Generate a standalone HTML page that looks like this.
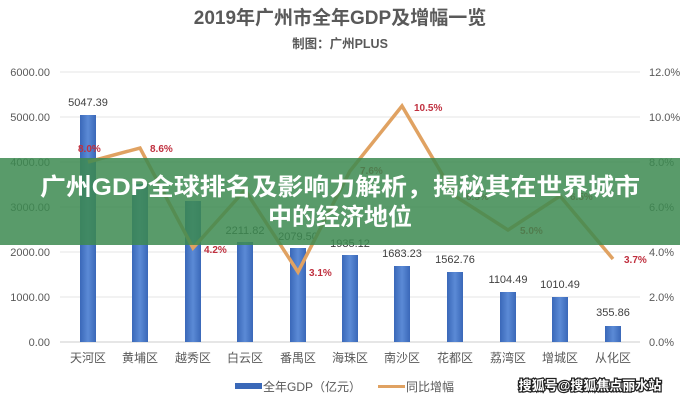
<!DOCTYPE html>
<html><head><meta charset="utf-8"><style>
body{margin:0;width:680px;height:400px;background:#fff;overflow:hidden;font-family:"Liberation Sans","Noto Sans CJK SC",sans-serif}
</style></head><body>
<svg width="680" height="400" xmlns="http://www.w3.org/2000/svg" font-family="Liberation Sans, Noto Sans CJK SC, sans-serif">
<defs><linearGradient id="b" x1="0" x2="1"><stop offset="0" stop-color="#3a68b8"/><stop offset=".5" stop-color="#5b8ad6"/><stop offset="1" stop-color="#3a68b8"/></linearGradient></defs>
<text x="340" y="24" text-anchor="middle" font-size="19" font-weight="bold" fill="#595959">2019年广州市全年GDP及增幅一览</text>
<text x="340" y="48" text-anchor="middle" font-size="12.5" font-weight="bold" fill="#595959">制图：广州PLUS</text>
<g stroke="#e4e4e4" stroke-width="1">
<line x1="60" x2="640" y1="72" y2="72"/><line x1="60" x2="640" y1="117" y2="117"/><line x1="60" x2="640" y1="162" y2="162"/><line x1="60" x2="640" y1="207" y2="207"/><line x1="60" x2="640" y1="252" y2="252"/><line x1="60" x2="640" y1="297" y2="297"/><line x1="60" x2="640" y1="342" y2="342" stroke="#ccc"/></g>
<g font-size="11" fill="#595959" text-anchor="end">
<text x="50" y="76">6000.00</text><text x="50" y="121">5000.00</text><text x="50" y="166">4000.00</text><text x="50" y="211">3000.00</text><text x="50" y="256">2000.00</text><text x="50" y="301">1000.00</text><text x="50" y="346">0.00</text></g>
<g font-size="11" fill="#595959">
<text x="649" y="76">12.0%</text><text x="649" y="121">10.0%</text><text x="649" y="166">8.0%</text><text x="649" y="211">6.0%</text><text x="649" y="256">4.0%</text><text x="649" y="301">2.0%</text><text x="649" y="346">0.0%</text></g>
<g fill="url(#b)">
<rect x="80" y="115" width="16" height="227"/><rect x="132" y="184" width="16" height="158"/><rect x="185" y="201" width="16" height="141"/><rect x="237" y="242" width="16" height="100"/><rect x="290" y="248" width="16" height="94"/><rect x="342" y="255" width="16" height="87"/><rect x="394" y="266" width="16" height="76"/><rect x="447" y="272" width="16" height="70"/><rect x="500" y="292" width="16" height="50"/><rect x="552" y="297" width="16" height="45"/><rect x="605" y="326" width="16" height="16"/></g>
<g font-size="11" fill="#404040" text-anchor="middle">
<text x="88" y="106">5047.39</text><text x="245" y="234">2211.82</text><text x="298" y="240">2079.50</text><text x="350" y="247">1935.12</text><text x="402" y="257">1683.23</text><text x="455" y="263">1562.76</text><text x="508" y="283">1104.49</text><text x="560" y="288">1010.49</text><text x="613" y="316">355.86</text></g>
<polyline fill="none" stroke="#e0a262" stroke-width="3.5" stroke-linejoin="miter" points="88,162 140,148 193,248 245,190 298,272 350,171 402,106 455,196 508,230 560,196 613,259"/>
<g font-size="10" font-weight="bold" fill="#c0303f">
<text x="78" y="152">8.0%</text><text x="150" y="152">8.6%</text><text x="204" y="253">4.2%</text><text x="309" y="276">3.1%</text><text x="414" y="111">10.5%</text><text x="360" y="174">7.6%</text><text x="466" y="200">6.5%</text><text x="520" y="234">5.0%</text><text x="570" y="200">6.5%</text><text x="624" y="263">3.7%</text></g>
<g font-size="12" fill="#595959" text-anchor="middle">
<text x="88" y="362">天河区</text><text x="140" y="362">黄埔区</text><text x="193" y="362">越秀区</text><text x="245" y="362">白云区</text><text x="298" y="362">番禺区</text><text x="350" y="362">海珠区</text><text x="402" y="362">南沙区</text><text x="455" y="362">花都区</text><text x="508" y="362">荔湾区</text><text x="560" y="362">增城区</text><text x="613" y="362">从化区</text></g>
<rect x="235" y="383" width="27" height="6" fill="#3a68b8"/>
<text x="263" y="391" font-size="12" fill="#595959">全年GDP（亿元）</text>
<rect x="378" y="385" width="27" height="3" fill="#e0a262"/>
<text x="406" y="391" font-size="12" fill="#595959">同比增幅</text>
<rect x="0" y="158" width="680" height="87" fill="#3c8a50" opacity="0.85"/>
<text x="340" y="195" text-anchor="middle" font-size="24" font-weight="bold" fill="#fff" textLength="600" lengthAdjust="spacingAndGlyphs">广州GDP全球排名及影响力解析，揭秘其在世界城市</text>
<text x="340" y="225" text-anchor="middle" font-size="24" font-weight="bold" fill="#fff">中的经济地位</text>
<text x="590" y="390" text-anchor="middle" font-size="13" font-weight="bold" fill="#fff" stroke="#222" stroke-width="2.5" paint-order="stroke">搜狐号@搜狐焦点丽水站</text>
</svg>
</body></html>
